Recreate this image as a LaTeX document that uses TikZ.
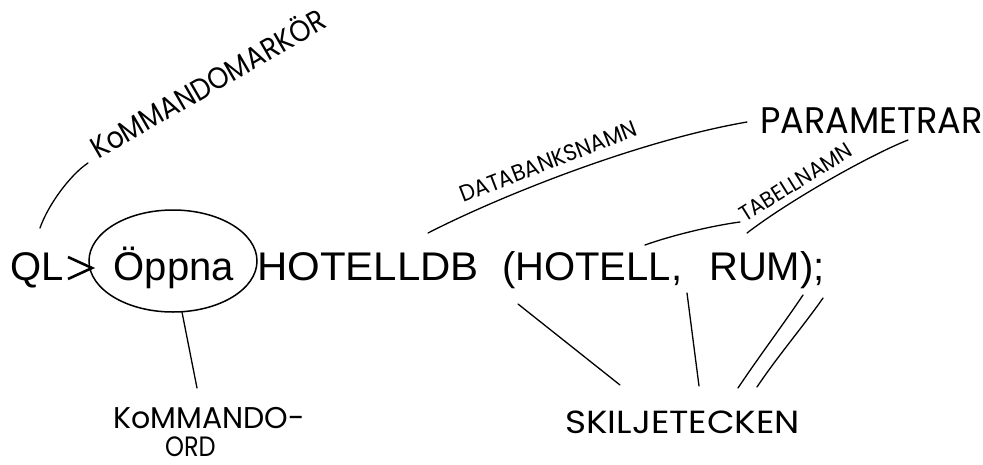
\documentclass[tikz,border=0pt]{standalone}
\usepackage{fontspec}
\setmainfont{Liberation Sans}
\newfontfamily\handfont{Poppins}
\usetikzlibrary{shapes.geometric}
\begin{document}
\begin{tikzpicture}[x=1pt,y=-1pt,
  code/.style={inner sep=0pt, anchor=base west, font=\fontsize{40}{40}\selectfont},
  hand/.style={inner sep=0pt, anchor=base west, font=\handfont\fontsize{#1}{#1}\selectfont},
  conn/.style={line width=1.3pt, line cap=round},
]
\useasboundingbox[fill=white] (0,0) rectangle (983,464);

% command line
\node[code] (ql) at (10.5,280) {QL};
\node[code] (oppna) at (113.5,280) {Öppna};
\node[code, xscale=1.05] (hdb) at (257,280) {HOTELLDB};
\node[code] (hot) at (502,280) {(HOTELL,};
\node[code] (rum) at (709,280) {RUM);};

% circled command word
\node[draw, ellipse, line width=1.5pt, minimum width=168pt, minimum height=102pt, inner sep=0pt] (oval) at (173,261) {};

% prompt sign
\coordinate (gtA) at (68,257);
\coordinate (gtT) at (92,268);
\coordinate (gtB) at (68,279);
\draw[line width=2.6pt] (gtA) -- (gtT) -- (gtB);

% hand-written labels
\node[hand=30, rotate=30, xscale=.89] (kmark) at (98,160) {KoMMANDOMARKÖR};
\node[hand=23, rotate=21, xscale=.94] (dbn) at (463,203) {DATABANKSNAMN};
\node[hand=22, rotate=32, xscale=.95] (tbn) at (745,223) {TABELLNAMN};
\node[hand=37, xscale=.95] (par) at (760,133) {PARAMETRAR};
\node[hand=30, xscale=1.0] (kord) at (113,428) {KoMMANDO-};
\node[hand=28, xscale=.86] (ord) at (165,456) {ORD};
\node[hand=32, xscale=1.12] (skil) at (565,433) {SKILJETECKEN};

% connector end points
\coordinate (km1) at (88,163);
\coordinate (km2) at (40,228);
\coordinate (p1) at (747,122);
\coordinate (db2) at (428,233);
\coordinate (p2) at (908,140);
\coordinate (tb2) at (747,233);
\coordinate (h1) at (645,245);
\coordinate (h2) at (740,222);
\coordinate (ko2) at (197,388);
\coordinate (s1a) at (518,304);
\coordinate (s1b) at (620,385);
\coordinate (s2a) at (687,293);
\coordinate (s2b) at (699,386);
\coordinate (s3a) at (803,295);
\coordinate (s3b) at (738,388);
\coordinate (s4a) at (823,298);
\coordinate (s4b) at (757,387);

% connectors
\draw[conn] (km1) .. controls (70,175) and (48,205) .. (km2);
\draw[conn] (p1) .. controls (637,141) and (498,197) .. (db2);
\draw[conn] (p2) .. controls (870,155) and (790,200) .. (tb2);
\draw[conn] (h1) .. controls (670,236) and (710,226) .. (h2);
\draw[conn] (oval.-80) -- (ko2);
\draw[conn] (s1a) -- (s1b);
\draw[conn] (s2a) -- (s2b);
\draw[conn] (s3a) .. controls (785,322) and (758,358) .. (s3b);
\draw[conn] (s4a) .. controls (805,324) and (777,357) .. (s4b);
\end{tikzpicture}
\end{document}
